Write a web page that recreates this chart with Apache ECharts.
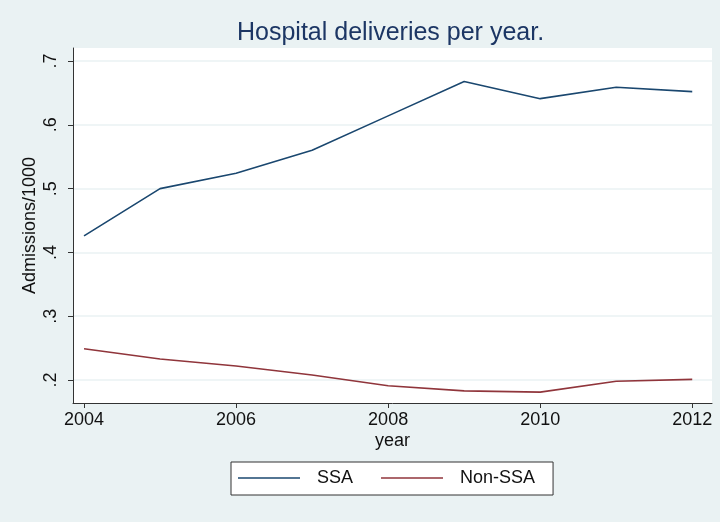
<!DOCTYPE html>
<html><head><meta charset="utf-8">
<script src="https://cdn.jsdelivr.net/npm/echarts@6/dist/echarts.min.js"></script>
<style>html,body{margin:0;padding:0;background:#EAF2F3;}#c{width:720px;height:522px;}</style>
</head><body><div id="c"></div>
<script>
const years = [2004, 2005, 2006, 2007, 2008, 2009, 2010, 2011, 2012];
const ssa = [0.426, 0.500, 0.524, 0.560, 0.614, 0.668, 0.641, 0.659, 0.652];
const nonSsa = [0.249, 0.233, 0.222, 0.208, 0.191, 0.183, 0.181, 0.198, 0.201];
const xTicks = [2004, 2006, 2008, 2010, 2012];
const yTicks = [0.2, 0.3, 0.4, 0.5, 0.6, 0.7];

const chart = echarts.init(document.getElementById('c'), null, {renderer: 'canvas'});
const font = 'Liberation Sans, Arial, sans-serif';
chart.setOption({
  backgroundColor: '#EAF2F3',
  animation: false,
  textStyle: {fontFamily: font},
  title: {
    text: 'Hospital deliveries per year.',
    left: 232, top: 16,
    textStyle: {fontSize: 25, fontWeight: 'normal', color: '#1C3664', fontFamily: font}
  },
  legend: {
    data: ['SSA', 'Non-SSA'],
    left: 231, top: 462,
    backgroundColor: '#fff', borderColor: '#333', borderWidth: 1,
    padding: [7, 18, 8, 7],
    icon: 'rect',
    itemWidth: 62, itemHeight: 1.3, itemGap: 28,
    textStyle: {fontSize: 18, color: '#111', fontFamily: font, padding: [0, 0, 0, 12]}
  },
  grid: {left: 73, right: 8, top: 48, bottom: 119, show: true, backgroundColor: '#fff', borderWidth: 0},
  xAxis: {
    type: 'value', min: 2003.855, max: 2012.26,
    name: 'year', nameLocation: 'middle', nameGap: 29, nameMoveOverlap: false,
    nameTextStyle: {fontSize: 18, color: '#111'},
    axisLine: {show: true, lineStyle: {color: '#333', width: 1}},
    axisTick: {show: true, length: 5, customValues: xTicks, lineStyle: {color: '#333'}},
    axisLabel: {customValues: xTicks, fontSize: 18, color: '#111', margin: 8,
      formatter: v => String(Math.round(v))},
    splitLine: {show: false}
  },
  yAxis: {
    type: 'value', min: 0.164, max: 0.7204,
    name: 'Admissions/1000', nameLocation: 'middle', nameGap: 34, nameMoveOverlap: false,
    nameTextStyle: {fontSize: 18, color: '#111'},
    axisLine: {show: true, lineStyle: {color: '#333', width: 1}},
    axisTick: {show: true, length: 5, customValues: yTicks, lineStyle: {color: '#333'}},
    axisLabel: {customValues: yTicks, fontSize: 18, color: '#111', rotate: 90, margin: 13,
      formatter: v => String(Math.round(v * 10) / 10).replace(/^0/, '')},
    splitLine: {show: true, lineStyle: {color: '#EAF2F3', width: 1.5}}
  },
  series: [
    {name: 'SSA', type: 'line', symbol: 'none', data: years.map((y, i) => [y, ssa[i]]),
     lineStyle: {color: '#1A476F', width: 1.6}, itemStyle: {color: '#1A476F'}},
    {name: 'Non-SSA', type: 'line', symbol: 'none', data: years.map((y, i) => [y, nonSsa[i]]),
     lineStyle: {color: '#90353B', width: 1.6}, itemStyle: {color: '#90353B'}}
  ]
});
</script></body></html>
